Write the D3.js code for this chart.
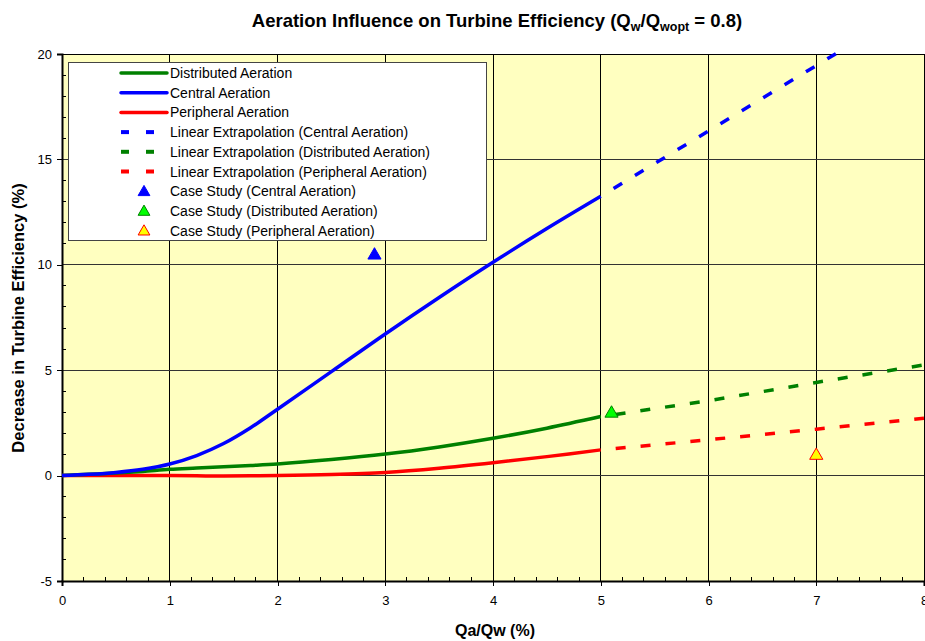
<!DOCTYPE html>
<html>
<head>
<meta charset="utf-8">
<script src="https://cdn.jsdelivr.net/npm/d3@7"></script>
<style>
  body { margin: 0; background: #fff; }
  text { font-family: "Liberation Sans", Arial, sans-serif; }
</style>
</head>
<body>
<div id="chart"></div>
<script>
// measured curves (x = Qa/Qw %, y = decrease in efficiency %)
const xCurve = [0, 0.25, 0.5, 0.75, 1, 1.25, 1.5, 1.75, 2, 2.5, 3, 3.5, 4, 4.5, 5];
const centralY = [0, 0.06, 0.15, 0.3, 0.55, 0.95, 1.52, 2.27, 3.15, 4.93, 6.72, 8.45, 10.12, 11.72, 13.25];
const distributedY = [0, 0.06, 0.12, 0.2, 0.3, 0.36, 0.42, 0.48, 0.55, 0.76, 1.02, 1.36, 1.77, 2.25, 2.8];
const peripheralY = [0, 0, 0, 0, 0, -0.01, -0.02, -0.01, 0, 0.05, 0.15, 0.35, 0.61, 0.9, 1.22];

// linear extrapolations
const xExtra = [5, 6, 7, 8];
const centralExtra = [13.25, 16.35, 19.45, 22.55];
const distributedExtra = [2.8, 3.55, 4.42, 5.25];
const peripheralExtra = [1.22, 1.7, 2.2, 2.72];

// case study points
const caseX = [2.9, 5.1, 7.0];
const caseY = [10.5, 3.0, 1.0];

const xTicks = [0, 1, 2, 3, 4, 5, 6, 7, 8];
const yTicks = [-5, 0, 5, 10, 15, 20];

const W = 925, H = 641;
const m = { left: 62, right: 1, top: 54, bottom: 60 };

const svg = d3.select("#chart").append("svg").attr("width", W).attr("height", H);

const x = d3.scaleLinear().domain([0, 8]).range([m.left, W - m.right]);
const y = d3.scaleLinear().domain([-5, 20]).range([H - m.bottom, m.top]);

// plot background
svg.append("rect").attr("x", x(0)).attr("y", y(20)).attr("width", x(8) - x(0)).attr("height", y(-5) - y(20))
  .attr("fill", "#ffffc0");

// gridlines
svg.append("g").selectAll("line").data(xTicks.slice(1)).enter().append("line")
  .attr("x1", d => x(d)).attr("x2", d => x(d)).attr("y1", y(20)).attr("y2", y(-5))
  .attr("stroke", "#000").attr("stroke-width", 1).attr("shape-rendering", "crispEdges");
svg.append("g").selectAll("line").data(yTicks.slice(1, -1)).enter().append("line")
  .attr("x1", x(0)).attr("x2", x(8)).attr("y1", d => y(d)).attr("y2", d => y(d))
  .attr("stroke", "#333").attr("stroke-width", 1).attr("shape-rendering", "crispEdges");
svg.append("line").attr("x1", x(0)).attr("x2", x(8)).attr("y1", y(20)).attr("y2", y(20))
  .attr("stroke", "#000").attr("shape-rendering", "crispEdges");

// axes
const xAxis = d3.axisBottom(x).tickValues(xTicks).tickSize(5).tickFormat(d => String(d));
const gx = svg.append("g").attr("transform", `translate(0,${y(-5)})`).call(xAxis);
const xMinor = d3.range(0.2, 8, 0.2).filter(v => Math.abs(v - Math.round(v)) > 0.01);
svg.append("g").selectAll("line").data(xMinor).enter().append("line")
  .attr("x1", d => x(d)).attr("x2", d => x(d)).attr("y1", y(-5)).attr("y2", y(-5) - 4)
  .attr("stroke", "#000").attr("shape-rendering", "crispEdges");

const yAxis = d3.axisLeft(y).tickValues(yTicks).tickSize(5).tickFormat(d => String(d));
const gy = svg.append("g").attr("transform", `translate(${x(0)},0)`).call(yAxis);
const yMinor = d3.range(-4, 20, 1).filter(v => v % 5 !== 0);
svg.append("g").selectAll("line").data(yMinor).enter().append("line")
  .attr("x1", x(0)).attr("x2", x(0) + 4).attr("y1", d => y(d)).attr("y2", d => y(d))
  .attr("stroke", "#000").attr("shape-rendering", "crispEdges");

[gx, gy].forEach(g => {
  g.select(".domain").attr("stroke", "#000").attr("stroke-width", 2);
  g.selectAll("line").attr("stroke", "#000").attr("shape-rendering", "crispEdges");
  g.selectAll("text").attr("font-size", 13).attr("fill", "#000")
    .style("font-family", "'Liberation Sans', Arial, sans-serif");
});
gx.selectAll("text").attr("y", 12).attr("dy", "0.9em");
gy.selectAll("text").attr("x", -10);

// clip (Excel lets lines spill a little above the plot)
svg.append("clipPath").attr("id", "clip").append("rect")
  .attr("x", x(0)).attr("y", y(20) - 6).attr("width", x(8) - x(0)).attr("height", y(-5) - y(20) + 6);
const plot = svg.append("g").attr("clip-path", "url(#clip)");

const curve = d3.line().x(d => x(d[0])).y(d => y(d[1])).curve(d3.curveCatmullRom.alpha(0.5));
const straight = d3.line().x(d => x(d[0])).y(d => y(d[1]));

const series = [
  { xs: xExtra, ys: centralExtra, color: "#0000ff", dash: true },
  { xs: xExtra, ys: distributedExtra, color: "#008000", dash: true },
  { xs: xExtra, ys: peripheralExtra, color: "#ff0000", dash: true },
  { xs: xCurve, ys: peripheralY, color: "#ff0000", dash: false },
  { xs: xCurve, ys: distributedY, color: "#008000", dash: false },
  { xs: xCurve, ys: centralY, color: "#0000ff", dash: false }
];
series.forEach(s => {
  const pts = s.xs.map((v, i) => [v, s.ys[i]]);
  plot.append("path").attr("d", s.dash ? straight(pts) : curve(pts))
    .attr("fill", "none").attr("stroke", s.color).attr("stroke-width", 3.5)
    .attr("stroke-dasharray", s.dash ? "10,15" : null)
    .attr("stroke-dashoffset", s.dash ? -15 : null);
});

// case study markers
const tri = d3.symbol().type(d3.symbolTriangle).size(75);
const caseStyle = [
  { fill: "#0000ff", stroke: "#0000ff" },
  { fill: "#00ff00", stroke: "#008000" },
  { fill: "#ffff00", stroke: "#ff0000" }
];
svg.append("g").selectAll("path").data(caseX).enter().append("path")
  .attr("d", tri).attr("transform", (d, i) => `translate(${x(d)},${y(caseY[i]) + 1})`)
  .attr("fill", (d, i) => caseStyle[i].fill).attr("stroke", (d, i) => caseStyle[i].stroke).attr("stroke-width", 1);

// legend
const leg = svg.append("g");
leg.append("rect").attr("x", 68.5).attr("y", 62.5).attr("width", 418).attr("height", 178)
  .attr("fill", "#fff").attr("stroke", "#444").attr("stroke-width", 1);
const legItems = [
  { label: "Distributed Aeration", type: "line", color: "#008000" },
  { label: "Central Aeration", type: "line", color: "#0000ff" },
  { label: "Peripheral Aeration", type: "line", color: "#ff0000" },
  { label: "Linear Extrapolation (Central Aeration)", type: "dash", color: "#0000ff" },
  { label: "Linear Extrapolation (Distributed Aeration)", type: "dash", color: "#008000" },
  { label: "Linear Extrapolation (Peripheral Aeration)", type: "dash", color: "#ff0000" },
  { label: "Case Study (Central Aeration)", type: "mark", i: 0 },
  { label: "Case Study (Distributed Aeration)", type: "mark", i: 1 },
  { label: "Case Study (Peripheral Aeration)", type: "mark", i: 2 }
];
legItems.forEach((it, k) => {
  const ly = 73 + k * 19.7;
  if (it.type === "line") {
    leg.append("line").attr("x1", 121).attr("x2", 167).attr("y1", ly).attr("y2", ly)
      .attr("stroke", it.color).attr("stroke-width", 3.5).attr("stroke-linecap", "round");
  } else if (it.type === "dash") {
    [121, 146].forEach(dx => leg.append("rect").attr("x", dx).attr("y", ly - 2).attr("width", 8).attr("height", 4)
      .attr("fill", it.color));
  } else {
    leg.append("path").attr("d", d3.symbol().type(d3.symbolTriangle).size(60))
      .attr("transform", `translate(144,${ly + 1})`)
      .attr("fill", caseStyle[it.i].fill).attr("stroke", caseStyle[it.i].stroke);
  }
  leg.append("text").attr("x", 170).attr("y", ly + 5).attr("font-size", 14).text(it.label);
});

// titles
const title = svg.append("text").attr("x", 497).attr("y", 27).attr("text-anchor", "middle")
  .attr("font-size", 18.5).attr("font-weight", "bold");
title.append("tspan").text("Aeration Influence on Turbine Efficiency (Q");
title.append("tspan").attr("font-size", 12.5).attr("dy", 4).text("w");
title.append("tspan").attr("dy", -4).text("/Q");
title.append("tspan").attr("font-size", 12.5).attr("dy", 4).text("wopt");
title.append("tspan").attr("dy", -4).text(" = 0.8)");

svg.append("text").attr("x", 495).attr("y", 636).attr("text-anchor", "middle")
  .attr("font-size", 16).attr("font-weight", "bold").text("Qa/Qw (%)");
svg.append("text").attr("transform", "translate(24,318) rotate(-90)").attr("text-anchor", "middle")
  .attr("font-size", 16.5).attr("font-weight", "bold").text("Decrease in Turbine Efficiency (%)");
</script>
</body>
</html>
